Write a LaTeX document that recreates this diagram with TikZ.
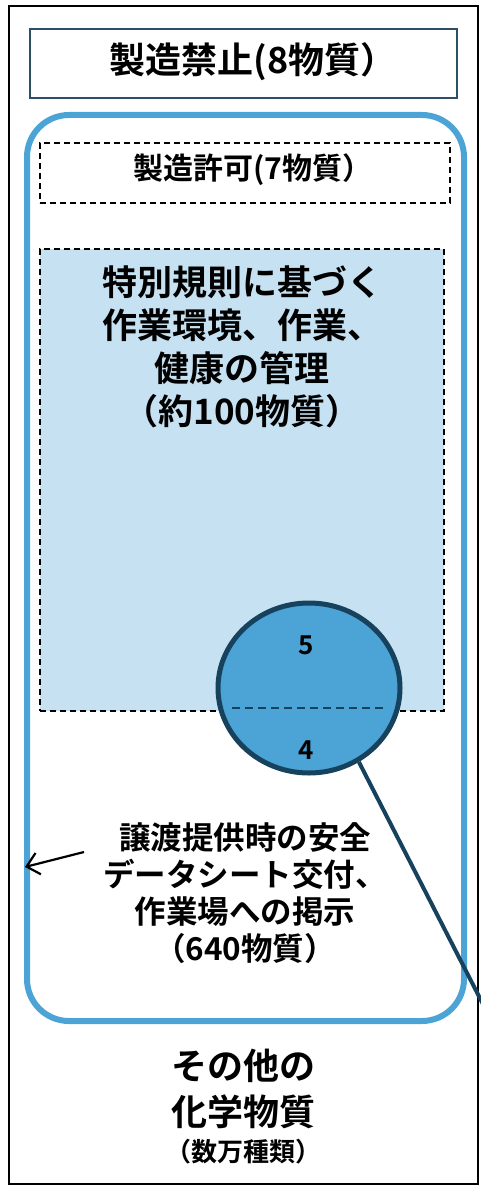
\documentclass[tikz,border=0pt]{standalone}
\usepackage{fontspec}
\setmainfont{Noto Sans CJK JP}[BoldFont={Noto Sans CJK JP Bold}]
\usetikzlibrary{arrows.meta,shapes.geometric}
\definecolor{midblue}{HTML}{4BA3D6}
\definecolor{lightblue}{HTML}{C5E1F2}
\definecolor{darkblue}{HTML}{17425E}
\definecolor{boxteal}{HTML}{2E5066}
\tikzset{
  lbl/.style={font=\bfseries, align=center, inner sep=0pt, text=black},
  big/.style={lbl, font=\bfseries\fontsize{35}{43}\selectfont},
  mid/.style={lbl, font=\bfseries\fontsize{30}{32}\selectfont},
  txt/.style={lbl, font=\bfseries\fontsize{31.5}{37}\selectfont},
  num/.style={lbl, font=\bfseries\fontsize{26}{30}\selectfont},
  dashbox/.style={draw=black, line width=1.6pt, dash pattern=on 6pt off 4pt, inner sep=0pt, anchor=north west},
}
\begin{document}
\begin{tikzpicture}[x=1pt,y=-1pt]
\useasboundingbox (0,0) rectangle (481,1190);
% outer frame
\node[draw=black, line width=2pt, minimum width=469pt, minimum height=1178pt, inner sep=0pt, anchor=north west] (outer) at (8,5) {};
% top box
\node[draw=boxteal, line width=2pt, minimum width=427pt, minimum height=69pt, inner sep=0pt, anchor=north west] (ban) at (29,28) {};
\node[lbl, font=\bfseries\fontsize{36}{40}\selectfont] (bantxt) at (253,62) {製造禁止(8物質）};
% blue rounded rect
\node[draw=midblue, line width=6pt, rounded corners=42pt, minimum width=437pt, minimum height=906pt, inner sep=0pt, anchor=north west] (notify) at (24,112) {};
% permit dashed box
\node[dashbox, minimum width=410pt, minimum height=60pt] (permit) at (39,142) {};
\node[mid] (permittxt) at (253,170) {製造許可(7物質）};
% special rules box
\node[dashbox, fill=lightblue, minimum width=404pt, minimum height=462pt] (special) at (39,248) {};
\node[big] (specialtxt) at (242,347) {特別規則に基づく\\作業環境、作業、\\健康の管理\\（約100物質）};
% circle
\node[ellipse, draw=darkblue, fill=midblue, line width=5pt, minimum width=182pt, minimum height=170pt, inner sep=0pt] (circ) at (309,688) {};
\coordinate (dl) at (232,708);
\coordinate (dr) at (383,708);
\draw[darkblue, line width=2pt, dash pattern=on 8pt off 5pt] (dl) -- (dr);
\node[num] (five) at (306,645) {5};
\node[num] (four) at (306,750) {4};
% connector line
\coordinate (lend) at (487,1012);
\draw[darkblue, line width=4pt] (circ.-56) -- (lend);
% sds text
\node[txt] (sds) at (245,893) {譲渡提供時の安全\\データシート交付、\\作業場への掲示\\（640物質）};
% arrow
\coordinate (a1) at (84,852);
\coordinate (a2) at (25,867);
\draw[black, line width=2.2pt, -{Straight Barb[length=12pt,width=22pt,line width=2.2pt]}] (a1) -- (a2);
% bottom text
\node[lbl, font=\bfseries\fontsize{36}{46}\selectfont] (other) at (243,1089) {その他の\\化学物質};
\node[lbl, font=\bfseries\fontsize{26}{30}\selectfont] (othernum) at (243,1152) {（数万種類）};
\end{tikzpicture}
\end{document}
